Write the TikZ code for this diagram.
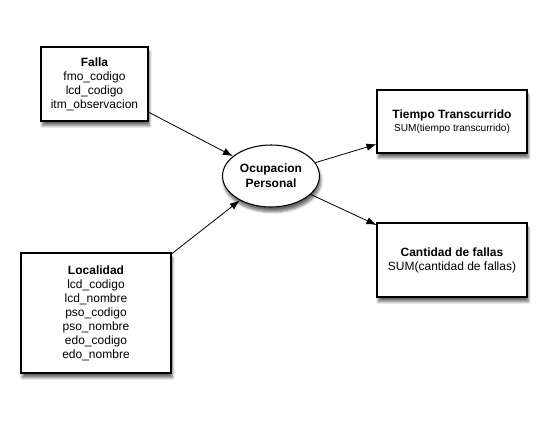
\documentclass[tikz,border=0pt]{standalone}
\usepackage{fontspec}
\setmainfont{Liberation Sans}
\usetikzlibrary{arrows.meta, shapes.geometric, shadows.blur}
\def\px{0.75pt}

\begin{document}
\begin{tikzpicture}[x=0.75pt, y=-0.75pt,
	tabla/.style={draw=black, fill=white, line width=0.8pt, rectangle, align=center, inner sep=0pt,
		font=\fontsize{9}{10.5}\selectfont,
		blur shadow={shadow xshift=1pt, shadow yshift=-3.5pt, shadow blur steps=6, shadow opacity=60}},
	hecho/.style={draw=black, fill=white, line width=0.8pt, ellipse, align=center, inner sep=0pt,
		font=\fontsize{9}{11}\selectfont\bfseries,
		minimum width=97*\px, minimum height=62*\px,
		blur shadow={shadow xshift=1pt, shadow yshift=-3.5pt, shadow blur steps=6, shadow opacity=60}},
	flecha/.style={-{Latex[length=7.5pt, width=5.5pt]}, line width=0.6pt}]

	\useasboundingbox (0,0) rectangle (547,440);

	% tablas de dimension
	\node[tabla, minimum width=107*\px, minimum height=74*\px] (falla) at (94.5,84)
		{\textbf{Falla}\\fmo\_codigo\\lcd\_codigo\\itm\_observacion};
	\node[tabla, minimum width=150*\px, minimum height=120*\px] (localidad) at (96,313)
		{\textbf{Localidad}\\lcd\_codigo\\lcd\_nombre\\pso\_codigo\\pso\_nombre\\edo\_codigo\\edo\_nombre};

	% hecho
	\node[hecho] (ocupacion) at (271,176) {Ocupacion\\Personal};

	% medidas
	\node[tabla, minimum width=150*\px, minimum height=63*\px] (tiempo) at (452,121.5)
		{\textbf{Tiempo Transcurrido}\\[-1pt]{\fontsize{7.6}{9}\selectfont SUM(tiempo transcurrido)}};
	\node[tabla, minimum width=150*\px, minimum height=74*\px] (cantidad) at (452,260)
		{\textbf{Cantidad de fallas}\\SUM(cantidad de fallas)};

	\draw[flecha] (falla) -- (ocupacion);
	\draw[flecha] (localidad) -- (ocupacion);
	\draw[flecha] (ocupacion) -- (tiempo);
	\draw[flecha] (ocupacion) -- (cantidad);

\end{tikzpicture}
\end{document}
